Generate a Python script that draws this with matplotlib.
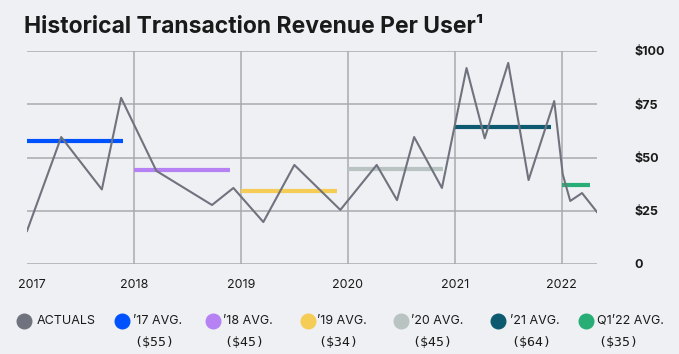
import matplotlib
matplotlib.use("Agg")
import matplotlib.pyplot as plt
from matplotlib.lines import Line2D
from matplotlib.transforms import ScaledTranslation

# actual revenue per user, sampled points (fractional year, $)
times = [2017.0, 2017.32, 2017.70, 2017.88, 2018.21, 2018.73, 2018.93, 2019.21,
         2019.50, 2019.93, 2020.27, 2020.46, 2020.62, 2020.88, 2021.11, 2021.28,
         2021.50, 2021.69, 2021.93, 2022.01, 2022.08, 2022.19, 2022.33]
values = [15.5, 59.6, 35.0, 78.0, 43.7, 27.7, 35.7, 19.7,
          46.5, 25.4, 46.5, 30.0, 59.6, 35.7, 92.0, 59.0,
          94.4, 39.4, 76.5, 42.0, 29.6, 33.3, 24.4]

# period averages
avg_start = [2017.0, 2018.0, 2019.0, 2020.0, 2021.0, 2022.0]
avg_end = [2017.9, 2018.9, 2019.9, 2020.89, 2021.9, 2022.26]
avg_level = [57.7, 44.3, 34.4, 44.6, 64.3, 37.2]
avg_colors = ["#0052FF", "#B681F2", "#F5CC55", "#B9C4C2", "#0D5A70", "#27AD75"]

legend_labels = ["ACTUALS", "\u201917 AVG.", "\u201918 AVG.", "\u201919 AVG.",
                 "\u201920 AVG.", "\u201921 AVG.", "Q1\u201922 AVG."]
legend_values = ["", "($55)", "($45)", "($34)", "($45)", "($64)", "($35)"]

year_ticks = [2017, 2018, 2019, 2020, 2021, 2022]
y_ticks = [0, 25, 50, 75, 100]
y_labels = ["0", "$25", "$50", "$75", "$100"]

BG = "#EEF0F3"
GRID = "#A8AAAE"
ACTUAL = "#70737E"
TEXT = "#1A1A1A"

plt.rcParams["font.family"] = ["Inter", "DejaVu Sans"]

fig = plt.figure(figsize=(6.79, 3.54), dpi=100, facecolor=BG)
ax = fig.add_axes([27 / 679, 1 - 264 / 354, 570 / 679, 213 / 354])
ax.set_facecolor(BG)

xmax = 2022.33
for y in y_ticks:
    ax.plot([year_ticks[0], xmax], [y, y], color=GRID, lw=1.1, zorder=1,
            solid_capstyle="butt")
for x in year_ticks[1:]:
    ax.plot([x, x], [0, 100], color=GRID, lw=1.1, zorder=1)

for s, e, lvl, c in zip(avg_start, avg_end, avg_level, avg_colors):
    ax.plot([s, e], [lvl, lvl], color=c, lw=3.0, solid_capstyle="butt", zorder=2)

ax.plot(times, values, color=ACTUAL, lw=1.5, zorder=3)

ax.set_xlim(year_ticks[0], xmax)
ax.set_ylim(0, 100)
for sp in ax.spines.values():
    sp.set_visible(False)

ax.set_xticks(year_ticks)
ax.set_xticklabels([str(y) for y in year_ticks])
ax.set_yticks(y_ticks)
ax.set_yticklabels(y_labels)
ax.yaxis.tick_right()
ax.tick_params(axis="x", length=0, pad=11, labelsize=9, labelcolor=TEXT)
ax.tick_params(axis="y", length=0, pad=27, labelsize=9, labelcolor=TEXT)
for t in ax.get_yticklabels():
    t.set_fontweight("bold")

# first year label sits a bit right of its tick
first = ax.get_xticklabels()[0]
first.set_transform(first.get_transform() + ScaledTranslation(5 / 100, 0, fig.dpi_scale_trans))

fig.text(24 / 679, 1 - 27 / 354, "Historical Transaction Revenue Per User\u00b9",
         fontsize=16.5, fontweight="bold", color=TEXT, va="center", ha="left")

# legend, drawn by hand
dot_x = [24.5, 122, 213, 308, 401, 498, 586]
txt_x = [37, 133, 223, 317, 411, 510, 597]
colors = [ACTUAL] + avg_colors
for dx, tx, lab, val, c in zip(dot_x, txt_x, legend_labels, legend_values, colors):
    fig.add_artist(Line2D([dx / 679], [1 - 321 / 354], marker="o", markersize=10.5,
                          color=c, linestyle="none", transform=fig.transFigure))
    fig.text(tx / 679, 1 - 321 / 354, lab, fontsize=9, color=TEXT, va="center", ha="left")
    if val:
        fig.text((tx + 1) / 679, 1 - 342 / 354, val, fontsize=9.5, color=TEXT,
                 va="center", ha="left", family=["DejaVu Sans Mono"])

fig.savefig("out.png", dpi=100, facecolor=BG)
